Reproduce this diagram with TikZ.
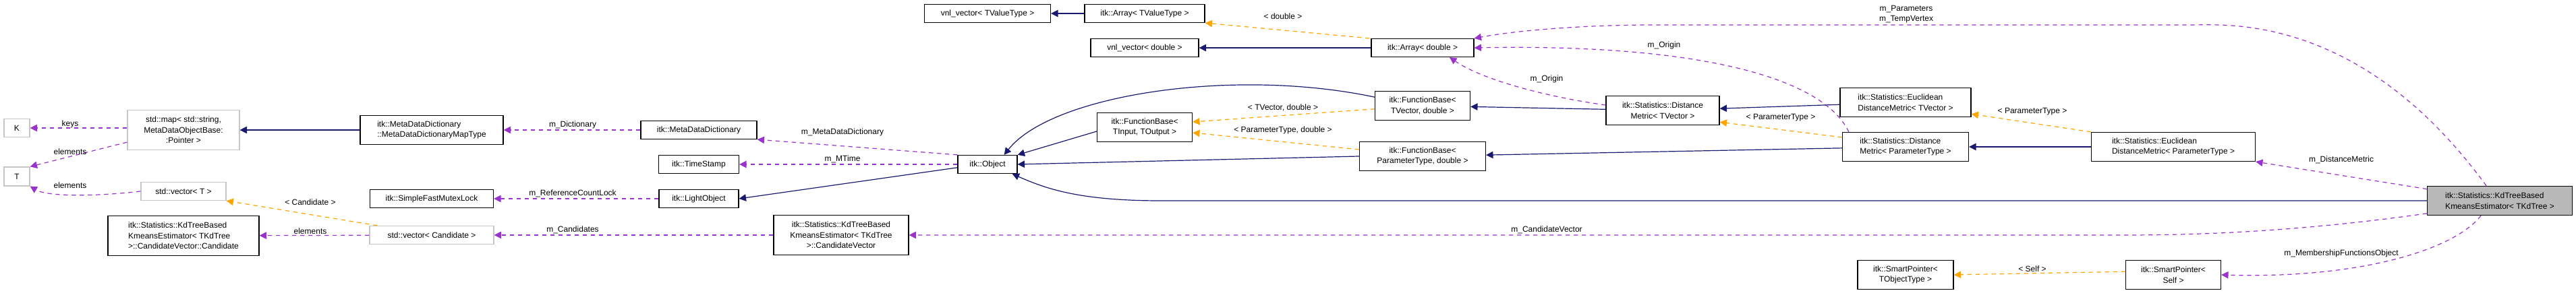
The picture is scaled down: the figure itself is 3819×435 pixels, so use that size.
\documentclass[tikz,border=0pt]{standalone}
\usepackage{fontspec}
\setmainfont{Liberation Sans}
\usetikzlibrary{arrows.meta}
\definecolor{inhcol}{HTML}{191970}
\definecolor{usecol}{HTML}{9A32CD}
\definecolor{tplcol}{HTML}{FFA500}
\tikzset{
  cls/.style={draw=black, fill=white, inner sep=0pt, align=center, line width=0.3pt,
    font=\fontsize{3}{3.9}\selectfont},
  ext/.style={cls, draw=gray!45},
  inh/.style={draw=inhcol, line width=0.3pt, -{Triangle[length=2.6pt,width=2.6pt]}},
  use/.style={draw=usecol, line width=0.3pt, dash pattern=on 1.6pt off 1.4pt,
    -{Triangle[length=2.6pt,width=2.6pt]}},
  tpl/.style={draw=tplcol, line width=0.3pt, dash pattern=on 1.6pt off 1.4pt,
    -{Triangle[length=2.6pt,width=2.6pt]}},
  lbl/.style={font=\fontsize{3}{3.9}\selectfont, inner sep=0pt, align=center}
}
\begin{document}
\begin{tikzpicture}[x=0.25pt,y=-0.25pt]
  \useasboundingbox (0,0) rectangle (3819,435);

  % classes
  \node[ext, minimum width=9.5pt, minimum height=6.75pt] (K) at (25,190) {K};
  \node[ext, minimum width=9.5pt, minimum height=7pt] (T) at (25,262) {T};
  \node[ext, minimum width=41.5pt, minimum height=14.75pt] (map) at (272,193) {std::map< std::string,\\ MetaDataObjectBase:\\:Pointer >};
  \node[cls, minimum width=53pt, minimum height=10.75pt, align=left] (mapType) at (640,193) {itk::MetaDataDictionary\\::MetaDataDictionaryMapType};
  \node[cls, minimum width=43pt, minimum height=6.75pt] (dict) at (1036,193) {itk::MetaDataDictionary};
  \node[cls, minimum width=29.75pt, minimum height=6.75pt] (stamp) at (1036,244) {itk::TimeStamp};
  \node[cls, minimum width=29.5pt, minimum height=6.75pt] (light) at (1036,295) {itk::LightObject};
  \node[cls, minimum width=45.75pt, minimum height=6.75pt] (mutex) at (640,295) {itk::SimpleFastMutexLock};
  \node[ext, minimum width=31.5pt, minimum height=6.75pt] (vecT) at (272,284) {std::vector< T >};
  \node[cls, minimum width=56pt, minimum height=14.75pt, align=left] (cand) at (272,350) {itk::Statistics::KdTreeBased\\KmeansEstimator< TKdTree\\ >::CandidateVector::Candidate};
  \node[ext, minimum width=46pt, minimum height=6.75pt] (vecCand) at (640,349) {std::vector< Candidate >};
  \node[cls, minimum width=50pt, minimum height=14.75pt] (candVec) at (1247,349) {itk::Statistics::KdTreeBased\\KmeansEstimator< TKdTree\\ >::CandidateVector};
  \node[cls, minimum width=46.75pt, minimum height=6.75pt] (vnlT) at (1464,20) {vnl\_vector< TValueType >};
  \node[cls, minimum width=44.5pt, minimum height=6.75pt] (arrT) at (1697,20) {itk::Array< TValueType >};
  \node[cls, minimum width=40pt, minimum height=6.75pt] (vnlD) at (1697,71) {vnl\_vector< double >};
  \node[cls, minimum width=38pt, minimum height=6.75pt] (arrD) at (2109,71) {itk::Array< double >};
  \node[cls, minimum width=22pt, minimum height=6.75pt] (obj) at (1464,244) {itk::Object};
  \node[cls, minimum width=35.25pt, minimum height=10.75pt] (fbIO) at (1697,189) {itk::FunctionBase<\\ TInput, TOutput >};
  \node[cls, minimum width=35.25pt, minimum height=10.75pt] (fbTV) at (2109,157) {itk::FunctionBase<\\ TVector, double >};
  \node[cls, minimum width=46.75pt, minimum height=10.75pt] (fbPT) at (2109,232) {itk::FunctionBase<\\ ParameterType, double >};
  \node[cls, minimum width=42pt, minimum height=10.75pt] (dmTV) at (2465,164) {itk::Statistics::Distance\\Metric< TVector >};
  \node[cls, minimum width=48.5pt, minimum height=10.75pt, align=left] (euTV) at (2825,152) {itk::Statistics::Euclidean\\DistanceMetric< TVector >};
  \node[cls, minimum width=46.75pt, minimum height=10.75pt, align=left] (dmPT) at (2825,218) {itk::Statistics::Distance\\Metric< ParameterType >};
  \node[cls, minimum width=60.75pt, minimum height=10.75pt, align=left] (euPT) at (3222,218) {itk::Statistics::Euclidean\\DistanceMetric< ParameterType >};
  \node[cls, minimum width=35.5pt, minimum height=10.75pt] (spT) at (2825,408) {itk::SmartPointer<\\ TObjectType >};
  \node[cls, minimum width=35.25pt, minimum height=10.75pt] (spS) at (3222,408) {itk::SmartPointer<\\ Self >};
  \node[cls, fill=gray!55, minimum width=53.75pt, minimum height=10.75pt, align=left] (kd) at (3706,298) {itk::Statistics::KdTreeBased\\KmeansEstimator< TKdTree >};

  % left part
  \draw[use] (map.west |- K) -- (K);
  \draw[use] ([yshift=3pt]map.south west) -- (T.north east);
  \draw[use] (vecT.west) .. controls (140,292) and (70,292) .. (T.south east);
  \draw[inh] (mapType) -- (map);
  \draw[use] (dict) -- (mapType);
  \draw[use] (light) -- (mutex);
  \draw[use] (vecCand) -- (cand);
  \draw[tpl] ([xshift=3pt]vecCand.north west) -- (vecT.south east);
  \draw[use] (candVec) -- (vecCand);
  \draw[use] (obj.north west) -- (dict.south east);
  \draw[use] (obj) -- (stamp);
  \draw[inh] ([yshift=-1.2pt]obj.west) -- (light.east);
  % arrays
  \draw[inh] (arrT) -- (vnlT);
  \draw[tpl] ([xshift=-0.5pt]arrD.north west) -- (arrT.south east);
  \draw[inh] (arrD) -- (vnlD);
  \draw[use] ([xshift=-5pt]kd.north) .. controls (3500,20) and (3300,37) .. (3250,37)
    -- (2450,37) .. controls (2350,37) and (2250,45) .. (arrD.north east);
  \draw[use] ([xshift=2.5pt]dmPT.north west) .. controls (2700,110) and (2500,65) .. (arrD.east);
  \draw[use] ([yshift=2pt]dmTV.west) .. controls (2300,145) and (2200,120) .. ([xshift=10pt]arrD.south);
  % function bases
  \draw[inh] (dmTV) -- (fbTV);
  \draw[tpl] ([yshift=-1.2pt]fbTV.west) -- ([yshift=2pt]fbIO.east);
  \draw[tpl] ([yshift=2.5pt]fbPT.west) -- ([yshift=-2pt]fbIO.east);
  \draw[inh] ([yshift=3.2pt]fbTV.west) .. controls (1830,100) and (1560,140) .. ([xshift=-5pt]obj.north east);
  \draw[inh] ([yshift=-1.5pt]fbIO.west) -- (obj.north east);
  \draw[inh] (fbPT.west) -- (obj.east);
  \draw[inh] (kd.west) -- (1720,298) .. controls (1600,298) and (1550,280) .. ([xshift=-2pt]obj.south east);
  \draw[use] ([yshift=0.8pt]kd.south west) .. controls (3400,345) and (3250,349) .. (3150,349) -- (candVec.east);
  % metrics
  \draw[inh] (euTV) -- (dmTV);
  \draw[tpl] ([yshift=-2pt]dmPT.north west) -- ([yshift=1.2pt]dmTV.south east);
  \draw[inh] (dmPT) -- (fbPT);
  \draw[inh] (euPT) -- (dmPT);
  \draw[tpl] (euPT.north west) -- ([yshift=1.2pt]euTV.south east);
  \draw[use] ([yshift=-1.2pt]kd.north west) -- (euPT.south east);
  \draw[use] ([xshift=-7pt]kd.south) .. controls (3640,370) and (3500,414) .. (spS.east);
  \draw[tpl] ([yshift=1.2pt]spS.west) -- (spT.east);

  % labels
  \node[lbl] at (104,184) {keys};
  \node[lbl] at (104,225) {elements};
  \node[lbl] at (104,275) {elements};
  \node[lbl] at (460,300) {< Candidate >};
  \node[lbl] at (460,343) {elements};
  \node[lbl] at (849,185) {m\_Dictionary};
  \node[lbl] at (849,287) {m\_ReferenceCountLock};
  \node[lbl] at (849,341) {m\_Candidates};
  \node[lbl] at (1249,196) {m\_MetaDataDictionary};
  \node[lbl] at (1249,236) {m\_MTime};
  \node[lbl] at (1902,24) {< double >};
  \node[lbl] at (1902,160) {< TVector, double >};
  \node[lbl] at (1902,193) {< ParameterType, double >};
  \node[lbl] at (2826,21) {m\_Parameters\\m\_TempVertex};
  \node[lbl] at (2467,67) {m\_Origin};
  \node[lbl] at (2293,117) {m\_Origin};
  \node[lbl] at (2640,175) {< ParameterType >};
  \node[lbl] at (3013,166) {< ParameterType >};
  \node[lbl] at (2293,341) {m\_CandidateVector};
  \node[lbl] at (3471,237) {m\_DistanceMetric};
  \node[lbl] at (3471,376) {m\_MembershipFunctionsObject};
  \node[lbl] at (3013,399) {< Self >};
\end{tikzpicture}
\end{document}
